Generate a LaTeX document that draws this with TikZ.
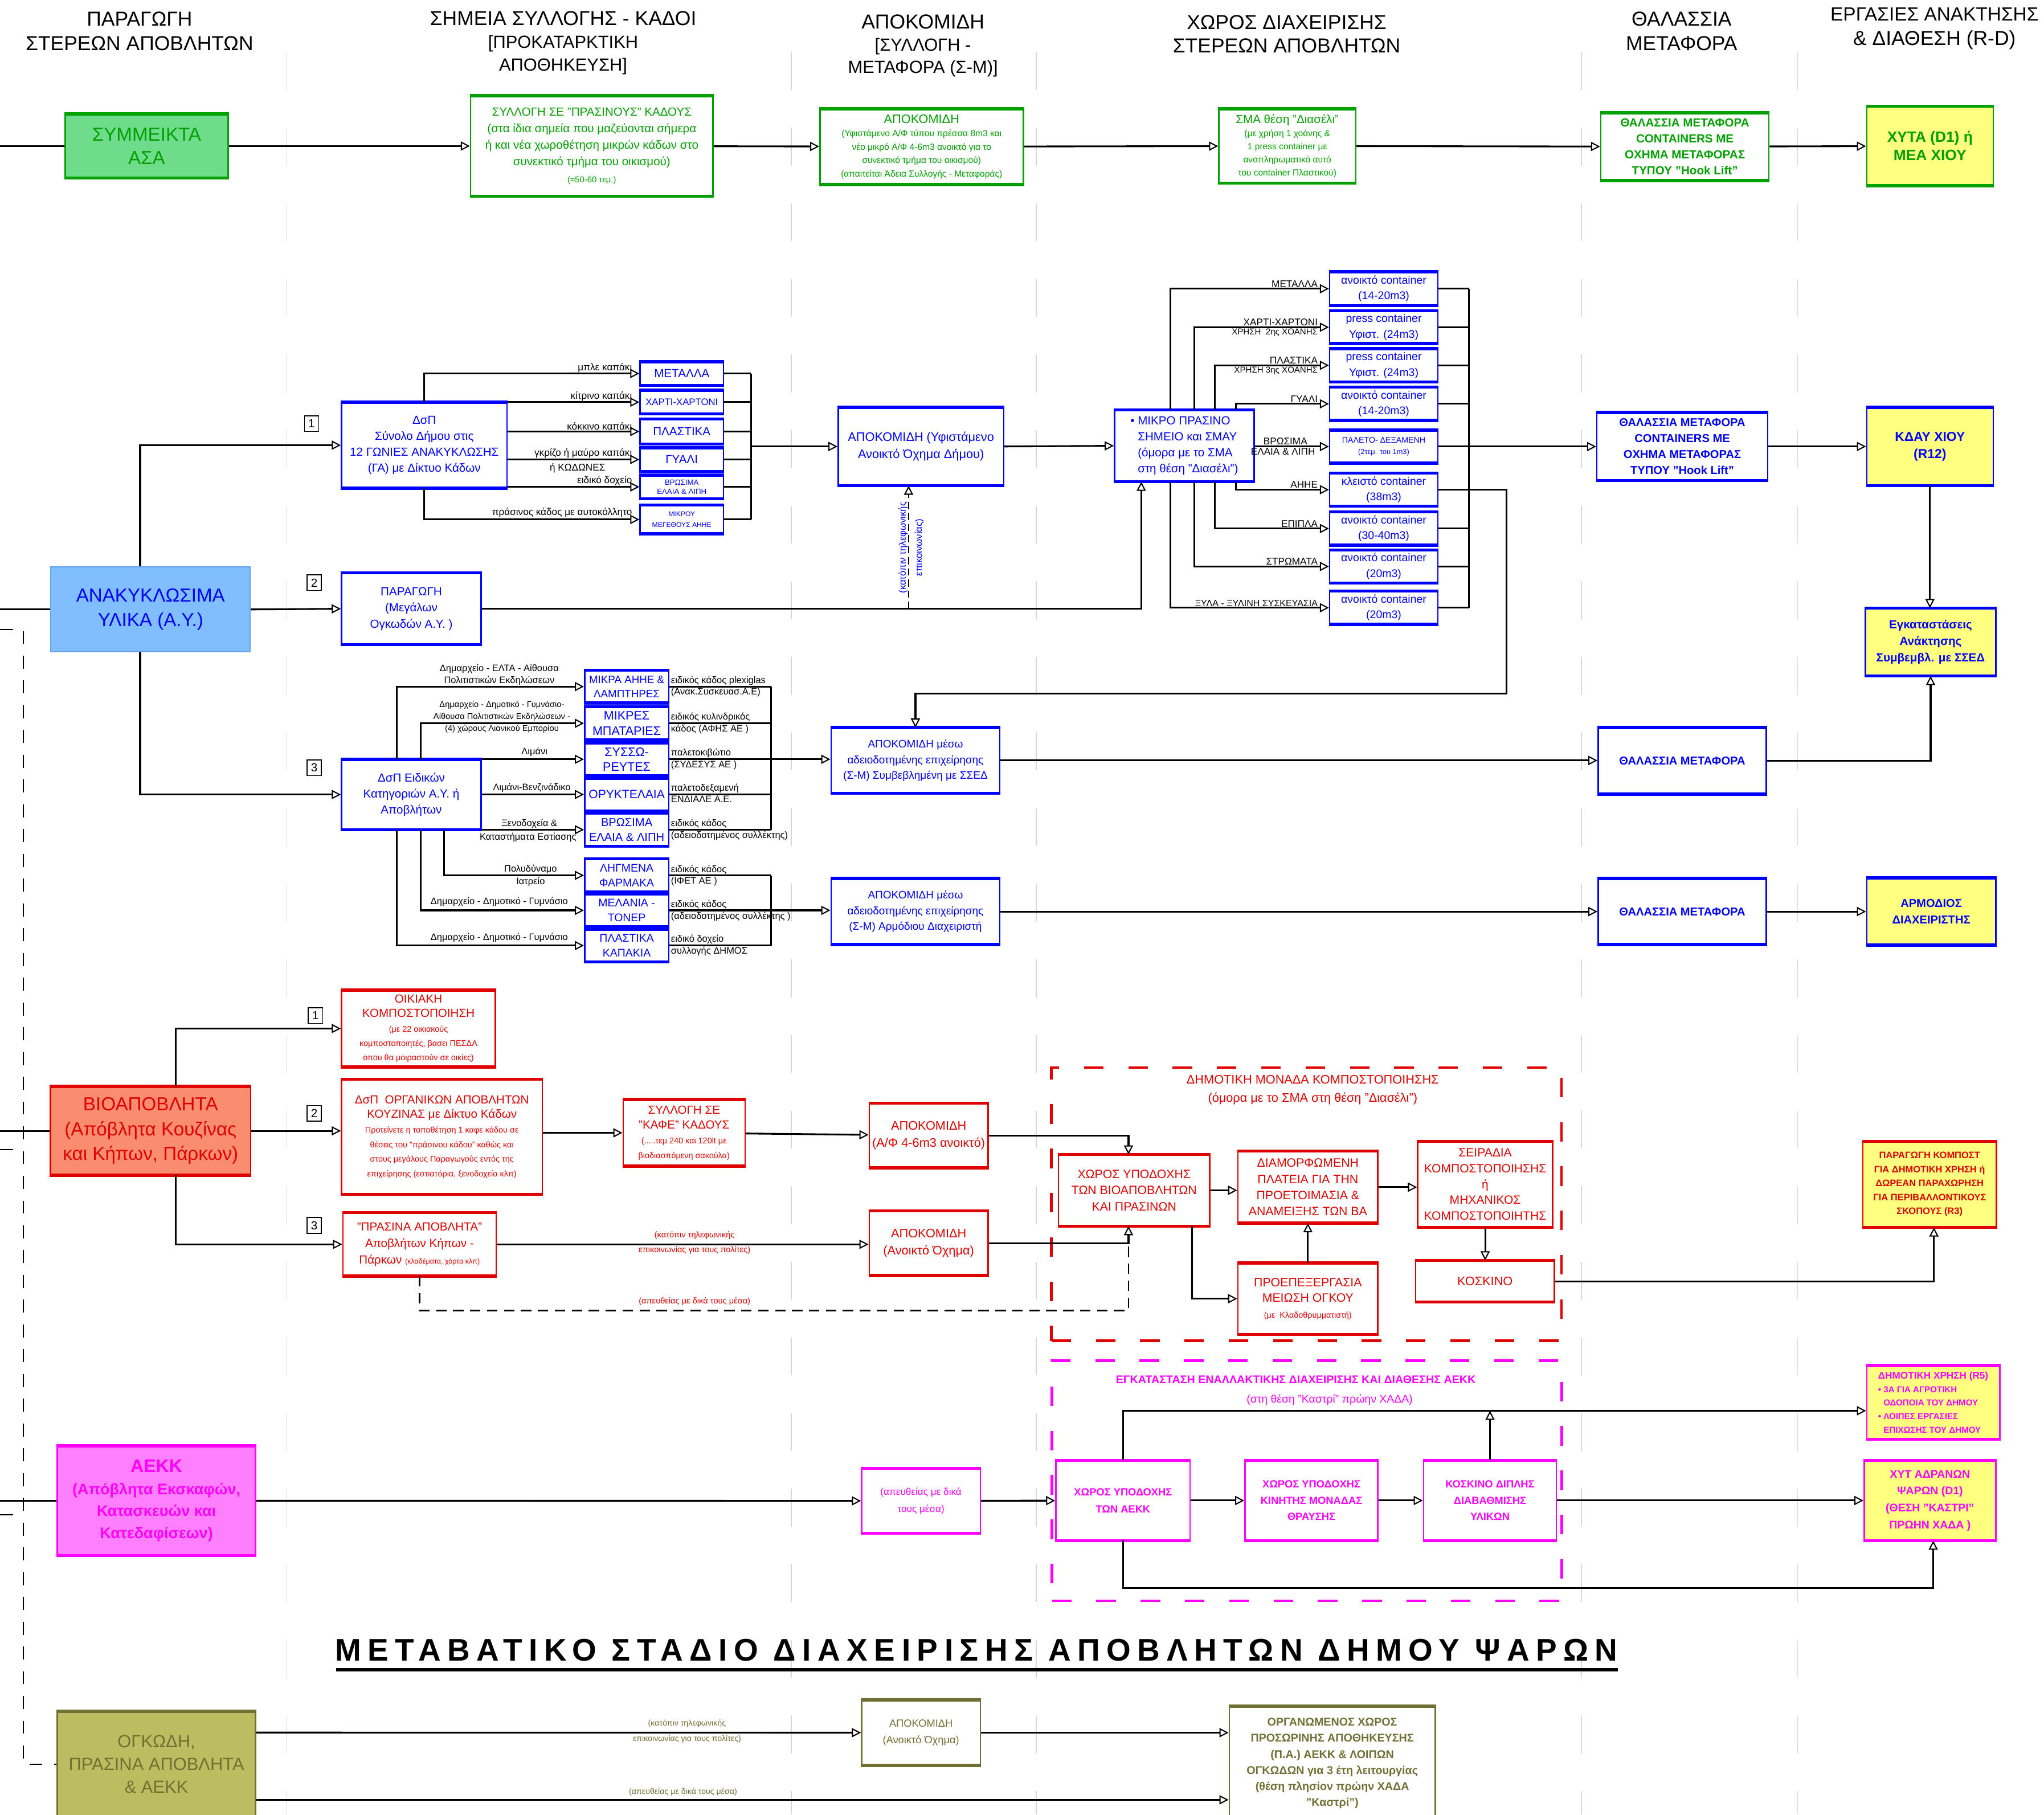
\documentclass[tikz,border=0pt]{standalone}
\usepackage{fontspec}
\setmainfont{Liberation Sans}
\usetikzlibrary{arrows.meta,fit}
\definecolor{cg}{RGB}{0,160,0}
\definecolor{fg}{RGB}{110,220,138}
\definecolor{cb}{RGB}{0,0,255}
\definecolor{fb}{RGB}{128,190,255}
\definecolor{lb}{RGB}{95,160,240}
\definecolor{cr}{RGB}{225,0,0}
\definecolor{fr}{RGB}{250,140,112}
\definecolor{cm}{RGB}{255,0,255}
\definecolor{fm}{RGB}{255,128,255}
\definecolor{fy}{RGB}{255,255,128}
\definecolor{fo}{RGB}{188,188,96}
\definecolor{co}{RGB}{112,112,52}
\definecolor{gl}{RGB}{215,215,215}
\newcommand\fsz[2]{\fontsize{#1}{#2}\selectfont}
\newcommand\BOXN[8]{%
  \node[bx,#2,draw=#3,fit={(#4,#5) (#6,#7)}] (#1) {};
  \node[bxt,#2,text=#3] (#1t) at (#1.center) {#8};
  \draw[draw=#3,line width=2.4pt] (#1.north west) -- (#1.north east) (#1.south west) -- (#1.south east);}
\tikzset{
  bx/.style={rectangle,inner sep=0pt,line width=1.1pt},
  bxt/.style={rectangle,inner sep=0pt,align=center},
  fw/.style={fill=white}, fyl/.style={fill=fy}, fgr/.style={fill=fg},
  fre/.style={fill=fr}, fma/.style={fill=fm}, fol/.style={fill=fo},
  arr/.style={line width=1.35pt,-{Triangle[length=7pt,width=7pt,fill=white,line width=0.9pt]}},
  ln/.style={line width=1.35pt},
  dsh/.style={line width=0.9pt,dash pattern=on 10pt off 9pt},
  lab/.style={inner sep=1pt,font=\fsz{7.5}{9}},
  slab/.style={inner sep=1pt,font=\fsz{7.2}{9},align=center},
  num/.style={draw,line width=0.7pt,inner sep=0pt,minimum width=11pt,minimum height=12pt,font=\fsz{9}{10}},
  hd/.style={align=center,inner sep=0pt},
  gline/.style={draw=gl,line width=0.7pt,dash pattern=on 29pt off 29pt},
}
\begin{document}
\begin{tikzpicture}[x=1pt,y=-1pt]
\fill[white] (0,0) rectangle (1568,1392);
\useasboundingbox (0,0) rectangle (1568,1392);
% column guides
\foreach \gx in {220,607,795,1213,1379} \draw[gline] (\gx,40) -- (\gx,1392);
% headers
\node[hd,font=\fsz{15.5}{19}] (h1) at (107,24) {ΠΑΡΑΓΩΓΗ\\ΣΤΕΡΕΩΝ ΑΠΟΒΛΗΤΩΝ};
\node[hd,font=\fsz{13.5}{17.5}] (h2) at (432,33) {\fsz{15.5}{18}ΣΗΜΕΙΑ ΣΥΛΛΟΓΗΣ - ΚΑΔΟΙ\\{[}ΠΡΟΚΑΤΑΡΚΤΙΚΗ\\ΑΠΟΘΗΚΕΥΣΗ{]}};
\node[hd,font=\fsz{13.5}{17}] (h3) at (708,35) {\fsz{15.5}{17}ΑΠΟΚΟΜΙΔΗ\\{[}ΣΥΛΛΟΓΗ -\\ΜΕΤΑΦΟΡΑ (Σ-Μ){]}};
\node[hd,font=\fsz{15.5}{18}] (h4) at (987,26) {ΧΩΡΟΣ ΔΙΑΧΕΙΡΙΣΗΣ\\ΣΤΕΡΕΩΝ ΑΠΟΒΛΗΤΩΝ};
\node[hd,font=\fsz{15.5}{19}] (h5) at (1290,24) {ΘΑΛΑΣΣΙΑ\\ΜΕΤΑΦΟΡΑ};
\node[hd,font=\fsz{14.6}{19}] (h6) at (1484,22) {ΕΡΓΑΣΙΕΣ ΑΝΑΚΤΗΣΗΣ\\\fsz{15.5}{19}\& ΔΙΑΘΕΣΗ (R-D)};

% ===== Row 1: mixed =====
\BOXN{asa}{fgr,font=\fsz{14.5}{18}}{cg}{50}{88}{175}{136}{ΣΥΜΜΕΙΚΤΑ\\ΑΣΑ}
\BOXN{g1}{fw,font=\fsz{9}{12.7}}{cg}{361}{74}{547}{150}{ΣΥΛΛΟΓΗ ΣΕ "ΠΡΑΣΙΝΟΥΣ" ΚΑΔΟΥΣ\\(στα ίδια σημεία που μαζεύονται σήμερα\\ή και νέα χωροθέτηση μικρών κάδων στο\\συνεκτικό τμήμα του οικισμού)\\\fsz{6.5}{8}(≈50-60 τεμ.)}
\BOXN{g2}{fw,font=\fsz{6.8}{10.3}}{cg}{629}{84}{785}{141}{\fsz{9.5}{11}ΑΠΟΚΟΜΙΔΗ\\\fsz{6.8}{10.3}(Υφιστάμενο Α/Φ τύπου πρέσσα 8m3 και\\νέο μικρό Α/Φ 4-6m3 ανοικτό για το\\συνεκτικό τμήμα του οικισμού)\\(απαιτείται Άδεια Συλλογής - Μεταφοράς)}
\BOXN{g3}{fw,font=\fsz{6.8}{10}}{cg}{935}{84}{1040}{140}{\fsz{9}{11}ΣΜΑ θέση "Διασέλι"\\\fsz{6.8}{10}(με χρήση 1 χοάνης \&\\1 press container με\\αναπληρωματικό αυτό\\του container Πλαστικού)}
\BOXN{g4}{fw,font=\bfseries\fsz{9}{12.3}}{cg}{1228}{87}{1357}{138}{ΘΑΛΑΣΣΙΑ ΜΕΤΑΦΟΡΑ\\CONTAINERS ΜΕ\\ΟΧΗΜΑ ΜΕΤΑΦΟΡΑΣ\\ΤΥΠΟΥ "Hook Lift"}
\BOXN{g5}{fyl,font=\bfseries\fsz{11.5}{14}}{cg}{1432}{82}{1529}{142}{ΧΥΤΑ (D1) ή\\ΜΕΑ ΧΙΟΥ}
\coordinate (L1) at (0,112);
\draw[ln] (L1) -- (asa);
\draw[arr] (asa) -- (g1);
\draw[arr] (g1) -- (g2);
\draw[arr] (g2) -- (g3);
\draw[arr] (g3) -- (g4);
\draw[arr] (g4) -- (g5);

% ===== Recyclables =====
\node[bx,fill=fb,draw=lb,line width=0.8pt,fit={(39,435) (192,500)}] (ay) {};
\node[bxt,text=cb,font=\fsz{14.5}{19}] (ayt) at (ay.center) {ΑΝΑΚΥΚΛΩΣΙΜΑ\\ΥΛΙΚΑ (Α.Υ.)};
\coordinate (L2) at (0,467.5);
\draw[ln] (L2) -- (ay);
\node[num] (n1) at (239,325) {1};
\node[num] (n2) at (241,447) {2};
\node[num] (n3) at (241,589) {3};

\BOXN{dsp}{fw,font=\fsz{9}{12.3}}{cb}{262}{309}{389}{374}{ΔσΠ\\Σύνολο Δήμου στις\\12 ΓΩΝΙΕΣ ΑΝΑΚΥΚΛΩΣΗΣ\\(ΓΑ) με Δίκτυο Κάδων}
\draw[arr] ([xshift=-8pt]ay.north) |- (dsp.west);

\BOXN{b1}{fw,font=\fsz{9}{10}}{cb}{491}{278}{555}{295}{ΜΕΤΑΛΛΑ}
\BOXN{b2}{fw,font=\fsz{7.3}{8}}{cb}{491}{300}{555}{317}{ΧΑΡΤΙ-ΧΑΡΤΟΝΙ}
\BOXN{b3}{fw,font=\fsz{9}{10}}{cb}{491}{322}{555}{340}{ΠΛΑΣΤΙΚΑ}
\BOXN{b4}{fw,font=\fsz{9}{10}}{cb}{491}{344}{555}{361}{ΓΥΑΛΙ}
\BOXN{b5}{fw,font=\fsz{5.8}{7.2}}{cb}{491}{365}{555}{382}{ΒΡΩΣΙΜΑ\\ΕΛΑΙΑ \& ΛΙΠΗ}
\BOXN{b6}{fw,font=\fsz{5.3}{8}}{cb}{491}{388}{555}{409}{ΜΙΚΡΟΥ\\ΜΕΓΕΘΟΥΣ ΑΗΗΕ}
\draw[arr] (dsp.north) |- (b1.west);
\draw[arr] (dsp.east |- b2.west) -- (b2.west);
\draw[arr] (dsp.east |- b3.west) -- (b3.west);
\draw[arr] (dsp.east |- b4.west) -- (b4.west);
\draw[arr] (dsp.east |- b5.west) -- (b5.west);
\draw[arr] (dsp.south) |- (b6.west);
\node[lab,anchor=south east] (l1) at (486,287) {μπλε καπάκι};
\node[lab,anchor=south east] (l2) at (486,309) {κίτρινο καπάκι};
\node[lab,anchor=south east] (l3) at (486,331) {κόκκινο καπάκι};
\node[lab,anchor=south east] (l4) at (486,352.5) {γκρίζο ή μαύρο καπάκι};
\node[lab] (l4b) at (443,359) {ή ΚΩΔΩΝΕΣ};
\node[lab,anchor=south east] (l5) at (486,373.5) {ειδικό δοχείο};
\node[lab,anchor=south east] (l6) at (486,398) {πράσινος κάδος με αυτοκόλλητο};
\coordinate (c1) at (576,342.5);
\foreach \b in {b1,b2,b3,b4,b5,b6} \draw[ln] (\b.east) -- (\b.east -| c1);
\draw[ln] (b1.east -| c1) -- (b6.east -| c1);

\BOXN{apk}{fw,font=\fsz{9.5}{13}}{cb}{643}{313}{770}{372}{ΑΠΟΚΟΜΙΔΗ (Υφιστάμενο\\Ανοικτό Όχημα Δήμου)}
\draw[arr] (c1) -- (c1 -| apk.west);

\BOXN{pm}{fw,font=\fsz{9}{12.5}}{cb}{262}{440}{369}{494}{ΠΑΡΑΓΩΓΗ\\(Μεγάλων\\Ογκωδών Α.Υ. )}
\draw[arr] (ay.east) -- (pm.west);

\BOXN{mp}{fw,align=left,font=\fsz{9}{12.3}}{cb}{855}{315}{962}{369}{\textbullet\ ΜΙΚΡΟ ΠΡΑΣΙΝΟ\\\phantom{\textbullet\ }ΣΗΜΕΙΟ και ΣΜΑΥ\\\phantom{\textbullet\ }(όμορα με το ΣΜΑ\\\phantom{\textbullet\ }στη θέση "Διασέλι")}
\draw[arr] (apk.east) -- (mp.west);
\draw[arr] (pm.east) -| ([xshift=-33pt]mp.south);
% dashed call-up link with vertical label
\coordinate (tq) at ([xshift=-9.5pt]apk.south);
\draw[arr,line width=1pt,dash pattern=on 5.5pt off 3pt] (tq |- pm.east) -- (tq);
\node[rotate=90,align=center,inner sep=0pt,text=cb,font=\fsz{7.3}{12.5}] (tel) at (699,420) {(κατόπιν τηλεφωνικής\\επικοινωνίας)};

\BOXN{k1}{fw,font=\fsz{8.5}{12}}{cb}{1020}{209}{1103}{234}{ανοικτό container\\(14-20m3)}
\BOXN{k2}{fw,font=\fsz{8.5}{12}}{cb}{1020}{239}{1103}{263}{press container\\Υφιστ. (24m3)}
\BOXN{k3}{fw,font=\fsz{8.5}{12}}{cb}{1020}{268}{1103}{292.5}{press container\\Υφιστ. (24m3)}
\BOXN{k4}{fw,font=\fsz{8.5}{12}}{cb}{1020}{297.6}{1103}{322}{ανοικτό container\\(14-20m3)}
\BOXN{k5}{fw,font=\fsz{5.6}{9}}{cb}{1020}{330.4}{1103}{354.7}{\fsz{6.2}{8}ΠΑΛΕΤΟ- ΔΕΞΑΜΕΝΗ\\\fsz{5.6}{9}(2τεμ. του 1m3)}
\BOXN{k6}{fw,font=\fsz{8.5}{12}}{cb}{1020}{363.5}{1103}{387.8}{κλειστό container\\(38m3)}
\BOXN{k7}{fw,font=\fsz{8.5}{12}}{cb}{1020}{393.3}{1103}{417.6}{ανοικτό container\\(30-40m3)}
\BOXN{k8}{fw,font=\fsz{8.5}{12}}{cb}{1020}{422.4}{1103}{446.7}{ανοικτό container\\(20m3)}
\BOXN{k9}{fw,font=\fsz{8.5}{12}}{cb}{1020}{454}{1103}{478.4}{ανοικτό container\\(20m3)}
\draw[arr] ([xshift=-10.5pt]mp.north) |- (k1.west);
\draw[arr] ([xshift=7.5pt]mp.north) |- (k2.west);
\draw[arr] ([xshift=23.5pt]mp.north) |- (k3.west);
\draw[arr] ([xshift=39.5pt]mp.north) |- (k4.west);
\draw[arr] (mp.east |- k5.west) -- (k5.west);
\draw[arr] ([xshift=39.5pt]mp.south) |- (k6.west);
\draw[arr] ([xshift=23.5pt]mp.south) |- (k7.west);
\draw[arr] ([xshift=7.5pt]mp.south) |- (k8.west);
\draw[arr] ([xshift=-10.5pt]mp.south) |- (k9.west);
\node[lab,anchor=south east] (cl1) at (1012,221.5) {ΜΕΤΑΛΛΑ};
\node[lab,anchor=south east] (cl2) at (1012,251) {ΧΑΡΤΙ-ΧΑΡΤΟΝΙ};
\node[lab,anchor=north east,font=\fsz{6.6}{8}] (cl2b) at (1012,251) {ΧΡΗΣΗ\ \ 2ης ΧΟΑΝΗΣ};
\node[lab,anchor=south east] (cl3) at (1012,280.3) {ΠΛΑΣΤΙΚΑ};
\node[lab,anchor=north east,font=\fsz{6.6}{8}] (cl3b) at (1012,280.3) {ΧΡΗΣΗ 3ης ΧΟΑΝΗΣ};
\node[lab,anchor=south east] (cl4) at (1012,309.8) {ΓΥΑΛΙ};
\node[lab,anchor=south east] (cl5) at (1004,342.5) {ΒΡΩΣΙΜΑ};
\node[lab,anchor=north east] (cl5b) at (1010,342.5) {ΕΛΑΙΑ \& ΛΙΠΗ};
\node[lab,anchor=south east] (cl6) at (1012,375.6) {ΑΗΗΕ};
\node[lab,anchor=south east] (cl7) at (1012,405.5) {ΕΠΙΠΛΑ};
\node[lab,anchor=south east] (cl8) at (1012,434.5) {ΣΤΡΩΜΑΤΑ};
\node[lab,anchor=south east,font=\fsz{7}{8}] (cl9) at (1012,466.2) {ΞΥΛΑ - ΞΥΛΙΝΗ ΣΥΣΚΕΥΑΣΙΑ};

\BOXN{tm}{fw,font=\bfseries\fsz{8.8}{12.3}}{cb}{1225}{317}{1356}{368}{ΘΑΛΑΣΣΙΑ ΜΕΤΑΦΟΡΑ\\CONTAINERS ΜΕ\\ΟΧΗΜΑ ΜΕΤΑΦΟΡΑΣ\\ΤΥΠΟΥ "Hook Lift"}
\coordinate (c2) at (1127,342.5);
\foreach \k in {k1,k2,k3,k4,k6,k7,k8,k9} \draw[ln] (\k.east) -- (\k.east -| c2);
\draw[ln] (k1.east -| c2) -- (k9.east -| c2);
\draw[arr] (k5.east) -- (k5.east -| tm.west);
\BOXN{kd}{fyl,font=\bfseries\fsz{10}{13}}{cb}{1432}{313}{1529}{372}{ΚΔΑΥ ΧΙΟΥ\\(R12)}
\draw[arr] (tm) -- (kd);
\BOXN{eg}{fyl,font=\bfseries\fsz{9}{12.8}}{cb}{1431}{467}{1531}{518}{Εγκαταστάσεις\\Ανάκτησης\\Συμβεμβλ. με ΣΣΕΔ}
\draw[arr] (kd.south) -- (kd.south |- eg.north);

% ===== Section 3 =====
\BOXN{ds3}{fw,font=\fsz{9}{12.3}}{cb}{262}{583}{369}{636}{ΔσΠ Ειδικών\\Κατηγοριών Α.Υ. ή\\Αποβλήτων}
\draw[arr] ([xshift=-8pt]ay.south) |- (ds3.west);
\BOXN{s1}{fw,font=\fsz{8.2}{11}}{cb}{448.5}{514.6}{513}{538.8}{ΜΙΚΡΑ ΑΗΗΕ \&\\ΛΑΜΠΤΗΡΕΣ}
\BOXN{s2}{fw,font=\fsz{9.4}{11.5}}{cb}{448.5}{542.7}{513}{567}{ΜΙΚΡΕΣ\\ΜΠΑΤΑΡΙΕΣ}
\BOXN{s3}{fw,font=\fsz{9.4}{11.5}}{cb}{448.5}{570.4}{513}{594.5}{ΣΥΣΣΩ-\\ΡΕΥΤΕΣ}
\BOXN{s4}{fw,font=\fsz{9.2}{11}}{cb}{448.5}{597.4}{513}{621.5}{ΟΡΥΚΤΕΛΑΙΑ}
\BOXN{s5}{fw,font=\fsz{8.8}{11.5}}{cb}{448.5}{624.4}{513}{648.6}{ΒΡΩΣΙΜΑ\\ΕΛΑΙΑ \& ΛΙΠΗ}
\BOXN{s6}{fw,font=\fsz{8.5}{11.5}}{cb}{448.5}{659.4}{513}{683.6}{ΛΗΓΜΕΝΑ\\ΦΑΡΜΑΚΑ}
\BOXN{s7}{fw,font=\fsz{8.5}{11.5}}{cb}{448.5}{686.2}{513}{710.5}{ΜΕΛΑΝΙΑ -\\ΤΟΝΕΡ}
\BOXN{s8}{fw,font=\fsz{8.5}{11.5}}{cb}{448.5}{713.3}{513}{737.4}{ΠΛΑΣΤΙΚΑ\\ΚΑΠΑΚΙΑ}
\draw[arr] ([xshift=-11.2pt]ds3.north) |- (s1.west);
\draw[arr] ([xshift=7.1pt]ds3.north) |- (s2.west);
\draw[arr] (ds3.east |- s3.west) -- (s3.west);
\draw[arr] (ds3.east |- s4.west) -- (s4.west);
\draw[arr] (ds3.east |- s5.west) -- (s5.west);
\draw[arr] ([xshift=25.1pt]ds3.south) |- (s6.west);
\draw[arr] ([xshift=7.1pt]ds3.south) |- (s7.west);
\draw[arr] ([xshift=-11.2pt]ds3.south) |- (s8.west);
\node[slab] (t1) at (383,517.7) {Δημαρχείο - ΕΛΤΑ - Αίθουσα\\Πολιτιστικών Εκδηλώσεων};
\node[slab,font=\fsz{6.4}{9}] (t2) at (385,550) {Δημαρχείο - Δημοτικό - Γυμνάσιο-\\Αίθουσα Πολιτιστικών Εκδηλώσεων -\\(4) χώρους Λιανικού Εμπορίου};
\node[slab] (t3) at (410,577) {Λιμάνι};
\node[slab] (t4) at (408,604.4) {Λιμάνι-Βενζινάδικο};
\node[slab] (t5) at (406,632) {Ξενοδοχεία \&};
\node[slab] (t5b) at (405,642.5) {Καταστήματα Εστίασης};
\node[slab] (t6) at (407,666.8) {Πολυδύναμο};
\node[slab] (t6b) at (407,676.6) {Ιατρείο};
\node[slab] (t7) at (383,692) {Δημαρχείο - Δημοτικό - Γυμνάσιο};
\node[slab] (t8) at (383,719.5) {Δημαρχείο - Δημοτικό - Γυμνάσιο};
\node[slab,anchor=south west] (r1a) at (s1.east) {ειδικός κάδος plexiglas};
\node[slab,anchor=north west] (r1b) at (s1.east) {(Ανακ.Συσκευασ.Α.Ε)};
\node[slab,anchor=south west] (r2a) at (s2.east) {ειδικός κυλινδρικός};
\node[slab,anchor=north west] (r2b) at (s2.east) {κάδος (ΑΦΗΣ ΑΕ )};
\node[slab,anchor=south west] (r3a) at (s3.east) {παλετοκιβώτιο};
\node[slab,anchor=north west] (r3b) at (s3.east) {(ΣΥΔΕΣΥΣ ΑΕ )};
\node[slab,anchor=south west] (r4a) at (s4.east) {παλετοδεξαμενή};
\node[slab,anchor=north west] (r4b) at (s4.east) {ΕΝΔΙΑΛΕ Α.Ε.};
\node[slab,anchor=south west] (r5a) at (s5.east) {ειδικός κάδος};
\node[slab,anchor=north west] (r5b) at (s5.east) {(αδειοδοτημένος συλλέκτης)};
\node[slab,anchor=south west] (r6a) at (s6.east) {ειδικός κάδος};
\node[slab,anchor=north west] (r6b) at (s6.east) {(ΙΦΕΤ ΑΕ )};
\node[slab,anchor=south west] (r7a) at (s7.east) {ειδικός κάδος};
\node[slab,anchor=north west] (r7b) at (s7.east) {(αδειοδοτημένος συλλέκτης )};
\node[slab,anchor=south west] (r8a) at (s8.east) {ειδικό δοχείο};
\node[slab,anchor=north west] (r8b) at (s8.east) {συλλογής ΔΗΜΟΣ};
\coordinate (c5) at (591.4,582.5);
\foreach \s in {s1,s2,s4,s5,s6,s8} \draw[ln] (\s.east) -- (\s.east -| c5);
\draw[ln] (s1.east -| c5) -- (s5.east -| c5);
\draw[ln] (s6.east -| c5) -- (s8.east -| c5);
\BOXN{ap1}{fw,font=\fsz{8.3}{12}}{cb}{637.5}{558.7}{767}{608}{ΑΠΟΚΟΜΙΔΗ μέσω\\αδειοδοτημένης επιχείρησης\\(Σ-Μ) Συμβεβλημένη με ΣΣΕΔ}
\BOXN{ap2}{fw,font=\fsz{8.3}{12}}{cb}{637.5}{674.5}{767}{724}{ΑΠΟΚΟΜΙΔΗ μέσω\\αδειοδοτημένης επιχείρησης\\(Σ-Μ) Αρμόδιου Διαχειριστή}
\draw[arr] (s3.east) -- (s3.east -| ap1.west);
\draw[arr] (s7.east) -- (s7.east -| ap2.west);
\coordinate (c3) at (1155.5,532);
\draw[arr] (k6.east) -| (c3) -| (ap1.north);
\BOXN{tm1}{fw,font=\bfseries\fsz{8.8}{10}}{cb}{1226}{558.7}{1355}{608.6}{ΘΑΛΑΣΣΙΑ ΜΕΤΑΦΟΡΑ}
\BOXN{tm2}{fw,font=\bfseries\fsz{8.8}{10}}{cb}{1226}{674.5}{1355}{724}{ΘΑΛΑΣΣΙΑ ΜΕΤΑΦΟΡΑ}
\draw[arr] (ap1.east) -- (ap1.east -| tm1.west);
\draw[arr] (tm1.east) -| (eg.south);
\draw[arr] (ap2) -- (tm2);
\BOXN{ar}{fyl,font=\bfseries\fsz{8.8}{12.5}}{cb}{1432}{674}{1531}{724.5}{ΑΡΜΟΔΙΟΣ\\ΔΙΑΧΕΙΡΙΣΤΗΣ}
\draw[arr] (tm2) -- (ar);

% ===== Bio-waste =====
\node[draw=cr,dash pattern=on 15pt off 19pt,line width=2pt,inner sep=0pt,fit={(806.6,819) (1197.8,1028.5)}] (dmk) {};
\node[hd,text=cr,font=\fsz{9.5}{13.8}] (dmkt) at (1007,836) {ΔΗΜΟΤΙΚΗ ΜΟΝΑΔΑ ΚΟΜΠΟΣΤΟΠΟΙΗΣΗΣ\\(όμορα με το ΣΜΑ στη θέση "Διασέλι")};
\BOXN{bio}{fre,font=\fsz{14.5}{19}}{cr}{38.7}{834}{192.3}{901}{ΒΙΟΑΠΟΒΛΗΤΑ\\(Απόβλητα Κουζίνας\\και Κήπων, Πάρκων)}
\coordinate (L3) at (0,867.5);
\draw[ln] (L3) -- (bio);
\node[num] (n4) at (242,779) {1};
\node[num] (n5) at (241,854) {2};
\node[num] (n6) at (241,940) {3};
\BOXN{ok}{fw,font=\fsz{6.3}{11}}{cr}{262}{760}{380}{818}{\fsz{9}{11}ΟΙΚΙΑΚΗ\\\fsz{9}{11}ΚΟΜΠΟΣΤΟΠΟΙΗΣΗ\\(με 22 οικιακούς\\κομποστοποιητές, βασει ΠΕΣΔΑ\\οπου θα μοιραστούν σε οικίες)}
\draw[arr] ([xshift=19.5pt]bio.north) |- (ok.west);
\BOXN{org}{fw,font=\fsz{6.3}{11.2}}{cr}{262}{828.4}{416}{915.7}{\fsz{9}{11}ΔσΠ\ \ ΟΡΓΑΝΙΚΩΝ ΑΠΟΒΛΗΤΩΝ\\\fsz{9}{11}ΚΟΥΖΙΝΑΣ με Δίκτυο Κάδων\\Προτείνετε η τοποθέτηση 1 καφε κάδου σε\\θέσεις του "πράσινου κάδου" καθώς και\\στους μεγάλους Παραγωγούς εντός της\\επιχείρησης (εστιατόρια, ξενοδοχεία κλπ)}
\draw[arr] (bio.east) -- (bio.east -| org.west);
\BOXN{kf}{fw,font=\fsz{6.3}{11.3}}{cr}{478}{844}{571.5}{894}{\fsz{9}{11}ΣΥΛΛΟΓΗ ΣΕ\\\fsz{9}{11}"ΚΑΦΕ" ΚΑΔΟΥΣ\\(.....τεμ 240 και 120lt με\\βιοδιασπόμενη σακούλα)}
\draw[arr] (org.east |- kf.west) -- (kf.west);
\BOXN{ak}{fw,font=\fsz{9.5}{13}}{cr}{666.8}{846.8}{758}{895.3}{ΑΠΟΚΟΜΙΔΗ\\(Α/Φ 4-6m3 ανοικτό)}
\draw[arr] (kf) -- (ak);
\BOXN{xy}{fw,font=\fsz{9.3}{12.5}}{cr}{812}{886.2}{928}{940}{ΧΩΡΟΣ ΥΠΟΔΟΧΗΣ\\ΤΩΝ ΒΙΟΑΠΟΒΛΗΤΩΝ\\ΚΑΙ ΠΡΑΣΙΝΩΝ}
\draw[arr] (ak.east) -| ([xshift=-4.3pt]xy.north);
\BOXN{dm}{fw,font=\fsz{9.3}{12.4}}{cr}{949.6}{883.6}{1057}{937.8}{ΔΙΑΜΟΡΦΩΜΕΝΗ\\ΠΛΑΤΕΙΑ ΓΙΑ ΤΗΝ\\ΠΡΟΕΤΟΙΜΑΣΙΑ \&\\ΑΝΑΜΕΙΞΗΣ ΤΩΝ ΒΑ}
\draw[arr] (xy.east) -- (xy.east -| dm.west);
\BOXN{se}{fw,font=\fsz{9.2}{12.2}}{cr}{1087.6}{876}{1191}{941}{ΣΕΙΡΑΔΙΑ\\ΚΟΜΠΟΣΤΟΠΟΙΗΣΗΣ\\ή\\ΜΗΧΑΝΙΚΟΣ\\ΚΟΜΠΟΣΤΟΠΟΙΗΤΗΣ}
\draw[arr] (dm.east) -- (dm.east -| se.west);
\BOXN{ko}{fw,font=\fsz{9.5}{11}}{cr}{1086}{967.4}{1192.3}{998.3}{ΚΟΣΚΙΝΟ}
\draw[arr] (se.south) -- (se.south |- ko.north);
\BOXN{pk}{fyl,font=\bfseries\fsz{7.2}{10.7}}{cr}{1429}{876}{1531.5}{941}{ΠΑΡΑΓΩΓΗ ΚΟΜΠΟΣΤ\\ΓΙΑ ΔΗΜΟΤΙΚΗ ΧΡΗΣΗ ή\\ΔΩΡΕΑΝ ΠΑΡΑΧΩΡΗΣΗ\\ΓΙΑ ΠΕΡΙΒΑΛΛΟΝΤΙΚΟΥΣ\\ΣΚΟΠΟΥΣ (R3)}
\draw[arr] (ko.east) -| ([xshift=3.3pt]pk.south);
\BOXN{pe}{fw,font=\fsz{9.3}{12}}{cr}{949.6}{969.3}{1057}{1023.2}{ΠΡΟΕΠΕΞΕΡΓΑΣΙΑ\\ΜΕΙΩΣΗ ΟΓΚΟΥ\\\fsz{6.3}{8}(με\ \ Κλαδοθρυμματιστή)}
\draw[arr] ([xshift=44.5pt]xy.south) |- (pe.west);
\draw[arr] (pe.north) -- (pe.north |- dm.south);
\BOXN{pa}{fw,font=\fsz{9}{12.8}}{cr}{263}{930.7}{380.6}{978.4}{"ΠΡΑΣΙΝΑ ΑΠΟΒΛΗΤΑ"\\Αποβλήτων Κήπων -\\Πάρκων {\fsz{5.5}{8}(κλαδέματα, χόρτα κλπ)}}
\draw[arr] ([xshift=19.5pt]bio.south) |- (pa.west);
\BOXN{ao}{fw,font=\fsz{9.5}{13}}{cr}{666.8}{929.4}{758}{977.9}{ΑΠΟΚΟΜΙΔΗ\\(Ανοικτό Όχημα)}
\draw[arr] (pa.east) -- (pa.east -| ao.west);
\node[slab,text=cr,font=\fsz{6.4}{11}] (rl1) at (532.8,953.3) {(κατόπιν τηλεφωνικής\\επικοινωνίας για τους πολίτες)};
\draw[arr] (ao.east) -| ([xshift=-4.3pt]xy.south);
\coordinate (dd) at (865.7,1005.2);
\draw[dsh,line width=1.2pt,dash pattern=on 8pt off 5pt] (pa.south) |- (dd) -- (dd |- ao.east);
\node[slab,text=cr,font=\fsz{6.4}{8}] (rl2) at (532.8,998.5) {(απευθείας με δικά τους μέσα)};

% ===== AEKK =====
\node[draw=cm,dash pattern=on 15pt off 19pt,line width=2pt,inner sep=0pt,fit={(807,1043.8) (1198,1228)}] (dae) {};
\node[hd,text=cm,font=\bfseries\fsz{8.6}{10}] (daet) at (994,1058.4) {ΕΓΚΑΤΑΣΤΑΣΗ ΕΝΑΛΛΑΚΤΙΚΗΣ ΔΙΑΧΕΙΡΙΣΗΣ ΚΑΙ ΔΙΑΘΕΣΗΣ ΑΕΚΚ};
\node[hd,text=cm,font=\fsz{8.5}{10}] (daes) at (1020,1074) {(στη θέση "Καστρί" πρώην ΧΑΔΑ)};
\BOXN{ae}{fma,font=\bfseries\fsz{11.8}{17}}{cm}{44}{1109.7}{196}{1192.7}{\fsz{14}{17}ΑΕΚΚ\\(Απόβλητα Εκσκαφών,\\Κατασκευών και\\Κατεδαφίσεων)}
\coordinate (L4) at (0,1151.2);
\draw[ln] (L4) -- (ae);
\BOXN{ap}{fw,font=\fsz{7.5}{13}}{cm}{661}{1127}{752}{1175.7}{(απευθείας με δικά\\τους μέσα)}
\BOXN{x1}{fw,font=\bfseries\fsz{8}{13}}{cm}{810}{1120.8}{913}{1181.3}{ΧΩΡΟΣ ΥΠΟΔΟΧΗΣ\\ΤΩΝ ΑΕΚΚ}
\BOXN{x2}{fw,font=\bfseries\fsz{8}{12.5}}{cm}{955}{1120.8}{1057}{1181.3}{ΧΩΡΟΣ ΥΠΟΔΟΧΗΣ\\ΚΙΝΗΤΗΣ ΜΟΝΑΔΑΣ\\ΘΡΑΥΣΗΣ}
\BOXN{x3}{fw,font=\bfseries\fsz{8}{12.5}}{cm}{1092}{1120.8}{1194}{1181.3}{ΚΟΣΚΙΝΟ ΔΙΠΛΗΣ\\ΔΙΑΒΑΘΜΙΣΗΣ\\ΥΛΙΚΩΝ}
\BOXN{xa}{fyl,font=\bfseries\fsz{8.5}{13}}{cm}{1430}{1120.8}{1531}{1181.3}{ΧΥΤ ΑΔΡΑΝΩΝ\\ΨΑΡΩΝ (D1)\\(ΘΕΣΗ "ΚΑΣΤΡΙ"\\ΠΡΩΗΝ ΧΑΔΑ )}
\BOXN{dx}{fyl,align=left,font=\bfseries\fsz{6.6}{10.3}}{cm}{1432}{1048}{1534}{1103.6}{\fsz{7.5}{10}ΔΗΜΟΤΙΚΗ ΧΡΗΣΗ (R5)\\\textbullet\ 3Α ΓΙΑ ΑΓΡΟΤΙΚΗ\\\phantom{\textbullet\ }ΟΔΟΠΟΙΑ ΤΟΥ ΔΗΜΟΥ\\\textbullet\ ΛΟΙΠΕΣ ΕΡΓΑΣΙΕΣ\\\phantom{\textbullet\ }ΕΠΙΧΩΣΗΣ ΤΟΥ ΔΗΜΟΥ}
\draw[arr] (ae) -- (ap);
\draw[arr] (ap) -- (x1);
\draw[arr] (x1) -- (x2);
\draw[arr] (x2) -- (x3);
\draw[arr] (x3) -- (xa);
\coordinate (mline) at (1300,1082.2);
\draw[arr] (x1.north) |- (mline -| dx.west);
\draw[arr] (x3.north) -- (x3.north |- mline);
\coordinate (mbot) at (1300,1218);
\draw[arr] (x1.south) |- (mbot) -| ([xshift=2.5pt]xa.south);

% ===== Title =====
\node[inner sep=0pt,font=\bfseries\fsz{24}{28}\addfontfeatures{LetterSpace=21}] (title) at (749,1266) {ΜΕΤΑΒΑΤΙΚΟ ΣΤΑΔΙΟ ΔΙΑΧΕΙΡΙΣΗΣ ΑΠΟΒΛΗΤΩΝ ΔΗΜΟΥ ΨΑΡΩΝ};
\draw[line width=2.5pt] (258,1281) -- (1241,1281);

% ===== Bulky / olive =====
\BOXN{og}{fol,font=\fsz{13.5}{17.5}}{co}{44}{1313.4}{196}{1393.5}{ΟΓΚΩΔΗ,\\ΠΡΑΣΙΝΑ ΑΠΟΒΛΗΤΑ\\\& ΑΕΚΚ}
\BOXN{oa}{fw,font=\fsz{8}{12.5}}{co}{661}{1304.6}{752}{1353.7}{ΑΠΟΚΟΜΙΔΗ\\(Ανοικτό Όχημα)}
\BOXN{oo}{fw,font=\bfseries\fsz{8.6}{12.3}}{co}{943}{1309.4}{1101}{1396}{ΟΡΓΑΝΩΜΕΝΟΣ ΧΩΡΟΣ\\ΠΡΟΣΩΡΙΝΗΣ ΑΠΟΘΗΚΕΥΣΗΣ\\(Π.Α.) ΑΕΚΚ \& ΛΟΙΠΩΝ\\ΟΓΚΩΔΩΝ για 3 έτη λειτουργίας\\(θέση πλησίον πρώην ΧΑΔΑ\\"Καστρί")}
\draw[arr] ([yshift=24.4pt]og.east) -- (oa.west);
\draw[arr] (oa.east) -- (oa.east -| oo.west);
\draw[arr] ([yshift=-27.2pt]og.east) -- ([yshift=-27.2pt]og.east -| oo.west);
\node[slab,text=co,font=\fsz{6.2}{11.8}] (ol1) at (527,1328) {(κατόπιν τηλεφωνικής\\επικοινωνίας για τους πολίτες)};
\node[slab,text=co,font=\fsz{6.2}{8}] (ol2) at (524,1374.6) {(απευθείας με δικά τους μέσα)};

% ===== left dashed tree =====
\coordinate (d0) at (0,483); \coordinate (d1) at (18,483);
\draw[dsh] (d0) -- (d1) |- (og.west);
\coordinate (d2) at (0,882); \coordinate (d3) at (18,882);
\draw[dsh] (d2) -- (d3);
\coordinate (d4) at (0,1162); \coordinate (d5) at (18,1162);
\draw[dsh] (d4) -- (d5);
\end{tikzpicture}
\end{document}
